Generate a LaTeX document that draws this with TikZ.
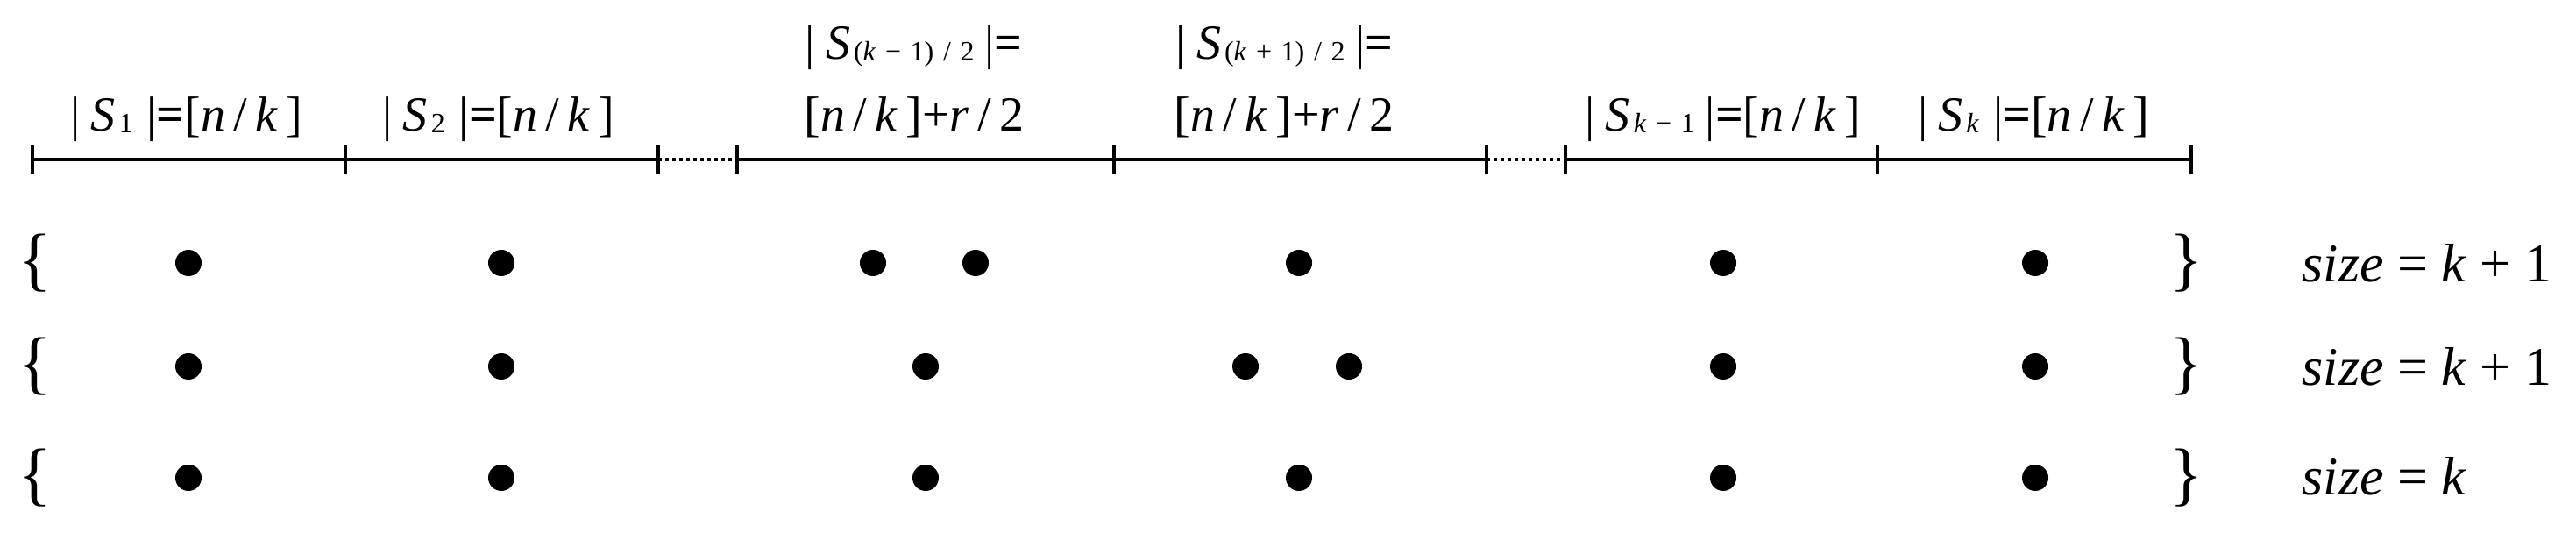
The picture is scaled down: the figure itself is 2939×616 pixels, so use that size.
\documentclass[tikz,border=0pt]{standalone}
\usepackage{fontspec}
\setmainfont{Liberation Serif}
\newcommand{\sbs}[1]{\raisebox{-0.02em}{\fontsize{8pt}{9pt}\selectfont #1}}
\newcommand{\eqb}{\textbf{=}}
\newcommand{\gp}{\hspace{3pt}}
\begin{document}
\begin{tikzpicture}[x=0.25pt,y=-0.25pt,
  axisline/.style={line width=1pt},
  tickline/.style={line width=1pt},
  dotline/.style={line width=0.8pt,dash pattern=on 1pt off 1pt},
  ptdot/.style={circle,fill=black,inner sep=0pt,minimum size=7.5pt},
  lab/.style={inner sep=0pt,font=\fontsize{14pt}{17pt}\selectfont},
  brace/.style={inner sep=0pt,font=\fontsize{20pt}{24pt}\selectfont},
  sz/.style={inner sep=0pt,anchor=base west,font=\fontsize{15.5pt}{19pt}\selectfont}]
\useasboundingbox (0,0) rectangle (2939,616);
% ticks on the axis
\foreach \n/\x in {0/37,1/394,2/751,3/841,4/1271,5/1696,6/1786,7/2142,8/2500}
  \coordinate (t\n) at (\x,182);
\draw[axisline] (t0) -- (t2);
\draw[axisline] (t3) -- (t5);
\draw[axisline] (t6) -- (t8);
\draw[dotline] (t2) -- (t3);
\draw[dotline] (t5) -- (t6);
\foreach \n in {0,...,8}
  \draw[tickline] (t\n) ++(0,-17) -- ++(0,33);
% labels
\node[lab,anchor=base] (l1) at (213,150) {|\gp\textit{S}\kern1pt\sbs{1}\gp\kern1pt|\eqb[\textit{n}\,/\,\textit{k}\,]};
\node[lab,anchor=base] (l2) at (569,150) {|\gp\textit{S}\kern1pt\sbs{2}\gp\kern1pt|\eqb[\textit{n}\,/\,\textit{k}\,]};
\node[lab,anchor=base west] (l3a) at (918,68) {|\gp\textit{S}\kern1pt\sbs{(\textit{k}\,\,−\,\,1)\,\,/\,\,2}\gp|\eqb};
\node[lab,anchor=base west] (l3b) at (917,150) {[\textit{n}\,/\,\textit{k}\,]+\textit{r}\,/\,2};
\node[lab,anchor=base west] (l4a) at (1341,68) {|\gp\textit{S}\kern1pt\sbs{(\textit{k}\,\,+\,\,1)\,\,/\,\,2}\gp|\eqb};
\node[lab,anchor=base west] (l4b) at (1339,150) {[\textit{n}\,/\,\textit{k}\,]+\textit{r}\,/\,2};
\node[lab,anchor=base] (l5) at (1966,150) {|\gp\textit{S}\kern1pt\sbs{\textit{k}\,\,−\,\,1}\gp|\eqb[\textit{n}\,/\,\textit{k}\,]};
\node[lab,anchor=base] (l6) at (2320,150) {|\gp\textit{S}\kern1pt\sbs{\textit{k}}\gp\kern1pt|\eqb[\textit{n}\,/\,\textit{k}\,]};
% braces
\foreach \r/\y in {1/300,2/418,3/545}{
  \node[brace] (lb\r) at (40,\y) {\{};
  \node[brace] (rb\r) at (2495,\y) {\}};
}
% dots
\foreach \x [count=\i] in {215,572,996,1113,1482,1966,2322}
  \node[ptdot] (a\i) at (\x,300) {};
\foreach \x [count=\i] in {215,572,1056,1421,1539,1966,2322}
  \node[ptdot] (b\i) at (\x,418) {};
\foreach \x [count=\i] in {215,572,1056,1482,1966,2322}
  \node[ptdot] (c\i) at (\x,545) {};
% sizes
\node[sz] (s1) at (2626,322) {\textit{size} = \textit{k} + 1};
\node[sz] (s2) at (2626,440) {\textit{size} = \textit{k} + 1};
\node[sz] (s3) at (2626,565) {\textit{size} = \textit{k}};
\end{tikzpicture}
\end{document}
